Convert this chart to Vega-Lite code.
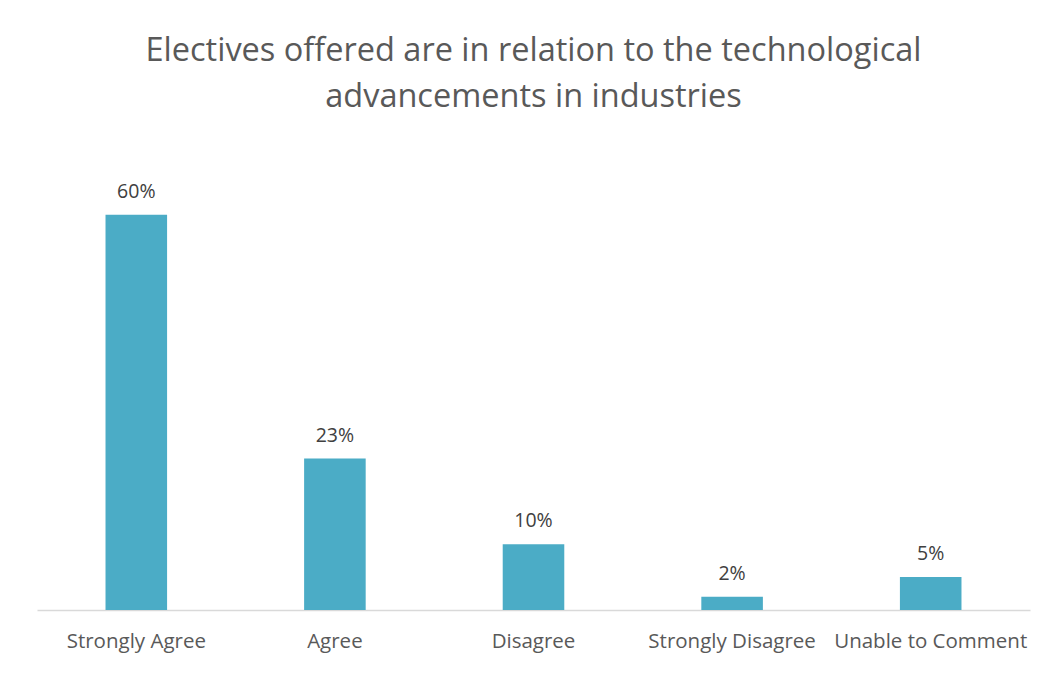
{
  "$schema": "https://vega.github.io/schema/vega-lite/v6.json",
  "autosize": "none",
  "width": 993,
  "height": 461,
  "padding": {"left": 37, "top": 149, "right": 16, "bottom": 64},
  "background": "white",
  "title": {
    "text": ["Electives offered are in relation to the technological", "advancements in industries"],
    "anchor": "middle",
    "frame": "group",
    "font": "Open Sans",
    "fontSize": 32.5,
    "fontWeight": "normal",
    "color": "#595959",
    "lineHeight": 46,
    "offset": 36
  },
  "data": {
    "values": [
      {"response": "Strongly Agree", "share": 0.60},
      {"response": "Agree", "share": 0.23},
      {"response": "Disagree", "share": 0.10},
      {"response": "Strongly Disagree", "share": 0.02},
      {"response": "Unable to Comment", "share": 0.05}
    ]
  },
  "encoding": {
    "x": {
      "field": "response",
      "type": "nominal",
      "sort": null,
      "scale": {"paddingInner": 0.69, "paddingOuter": 0.345},
      "axis": {
        "title": null,
        "labelAngle": 0,
        "labelFont": "Open Sans",
        "labelFontSize": 20.5,
        "labelColor": "#595959",
        "labelPadding": 21,
        "labelLimit": 0,
        "labelOverlap": false,
        "ticks": false,
        "domainColor": "#d9d9d9",
        "domainWidth": 1.5
      }
    },
    "y": {
      "field": "share",
      "type": "quantitative",
      "scale": {"domain": [0, 0.7], "nice": false},
      "axis": null
    }
  },
  "layer": [
    {"mark": {"type": "bar", "color": "#4BACC6"}},
    {
      "mark": {"type": "text", "baseline": "bottom", "dy": -13, "font": "Open Sans", "fontSize": 19.5, "color": "#404040"},
      "encoding": {"text": {"field": "share", "type": "quantitative", "format": ".0%"}}
    }
  ],
  "config": {"view": {"stroke": null}}
}
